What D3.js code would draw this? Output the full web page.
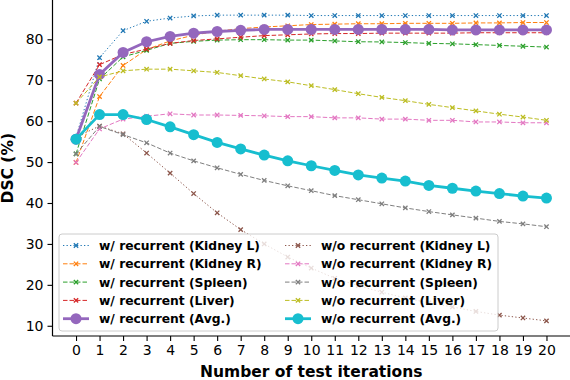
<!DOCTYPE html>
<html>
<head>
<meta charset="utf-8">
<script src="https://cdn.jsdelivr.net/npm/d3@7"></script>
<style>
  html, body { margin: 0; padding: 0; background: #fff; }
  svg { display: block; font-family: "DejaVu Sans", sans-serif; }
</style>
</head>
<body>
<div id="chart"></div>
<script>
// test iterations 0..20
const iterations = d3.range(0, 21);

// with recurrence
const wKidneyL = [56.1, 75.5, 82.1, 84.4, 85.2, 85.7, 85.9, 85.9, 85.9, 85.9, 85.8, 85.8, 85.8, 85.8, 85.8, 85.8, 85.8, 85.8, 85.8, 85.8, 85.8];
const wKidneyR = [49.9, 66.0, 73.6, 77.5, 79.6, 81.0, 82.0, 82.6, 83.0, 83.3, 83.6, 83.7, 83.8, 83.8, 83.9, 83.9, 83.9, 84.0, 84.0, 84.1, 84.1];
const wSpleen  = [52.0, 70.3, 75.7, 77.3, 79.0, 79.5, 79.8, 79.9, 79.9, 79.8, 79.8, 79.6, 79.4, 79.35, 79.2, 79.0, 78.9, 78.7, 78.5, 78.3, 78.1];
const wLiver   = [64.4, 73.8, 76.3, 77.6, 79.0, 79.7, 80.1, 80.5, 80.9, 81.1, 81.3, 81.4, 81.4, 81.5, 81.5, 81.5, 81.5, 81.6, 81.6, 81.6, 81.6];
const wAvg     = [55.6, 71.4, 76.8, 79.4, 80.7, 81.5, 81.9, 82.2, 82.4, 82.4, 82.4, 82.4, 82.4, 82.4, 82.4, 82.4, 82.3, 82.3, 82.3, 82.3, 82.3];

// without recurrence
const woKidneyL = [56.1, 58.8, 56.9, 52.2, 47.3, 42.3, 37.6, 33.5, 30.0, 26.8, 24.1, 21.6, 19.8, 18.2, 16.8, 15.6, 14.6, 13.5, 12.6, 11.9, 11.2];
const woKidneyR = [49.9, 58.1, 60.5, 61.2, 61.8, 61.5, 61.5, 61.4, 61.3, 61.1, 61.1, 60.8, 60.8, 60.5, 60.5, 60.2, 60.2, 59.8, 59.8, 59.6, 59.6];
const woSpleen  = [52.0, 58.7, 56.7, 54.7, 52.2, 50.3, 48.6, 47.0, 45.5, 44.2, 43.0, 41.8, 40.8, 39.8, 38.8, 37.9, 37.1, 36.3, 35.5, 34.9, 34.2];
const woLiver   = [64.4, 70.8, 72.3, 72.7, 72.7, 72.3, 71.9, 71.1, 70.3, 69.6, 68.65, 67.7, 66.7, 65.8, 65.0, 64.1, 63.3, 62.5, 61.7, 61.0, 60.2];
const woAvg     = [55.6, 61.6, 61.6, 60.4, 58.6, 56.7, 54.8, 53.2, 51.7, 50.3, 49.1, 47.95, 46.85, 46.1, 45.35, 44.3, 43.6, 42.9, 42.3, 41.7, 41.2];

const yTicks = [10, 20, 30, 40, 50, 60, 70, 80];

const series = [
  { name: "w/ recurrent (Kidney L)", values: wKidneyL, color: "#1f77b4", dash: "1.3,2.2", avg: false },
  { name: "w/ recurrent (Kidney R)", values: wKidneyR, color: "#ff7f0e", dash: "4.5,2", avg: false },
  { name: "w/ recurrent (Spleen)",   values: wSpleen,  color: "#2ca02c", dash: "4.5,2", avg: false },
  { name: "w/ recurrent (Liver)",    values: wLiver,   color: "#d62728", dash: "4.5,2", avg: false },
  { name: "w/ recurrent (Avg.)",     values: wAvg,     color: "#9467bd", dash: null,    avg: true },
  { name: "w/o recurrent (Kidney L)", values: woKidneyL, color: "#8c564b", dash: "1.3,2.2", avg: false },
  { name: "w/o recurrent (Kidney R)", values: woKidneyR, color: "#e377c2", dash: "4.5,2", avg: false },
  { name: "w/o recurrent (Spleen)",   values: woSpleen,  color: "#7f7f7f", dash: "4.5,2", avg: false },
  { name: "w/o recurrent (Liver)",    values: woLiver,   color: "#bcbd22", dash: "4.5,2", avg: false },
  { name: "w/o recurrent (Avg.)",     values: woAvg,     color: "#17becf", dash: null,    avg: true }
];

const width = 570, height = 380;
const svg = d3.select("#chart").append("svg")
  .attr("width", width)
  .attr("height", height);

const x = d3.scaleLinear().domain([-1, 21]).range([52.5, 570]);
const y = d3.scaleLinear().domain([7.5, 89.6]).range([336, 0]);

// axes
const xAxis = svg.append("g")
  .attr("transform", `translate(0,${y(7.5)})`)
  .call(d3.axisBottom(x).tickValues(iterations).tickSize(5).tickPadding(4).tickFormat(d3.format("d")));
const yAxis = svg.append("g")
  .attr("transform", `translate(${x(-1)},0)`)
  .call(d3.axisLeft(y).tickValues(yTicks).tickSize(5).tickPadding(4));

[xAxis, yAxis].forEach(a => {
  a.select(".domain").attr("stroke", "#000").attr("stroke-width", 1.2);
  a.selectAll(".tick line").attr("stroke", "#000").attr("stroke-width", 1.1);
  a.selectAll(".tick text").attr("fill", "#000")
    .style("font-family", "DejaVu Sans").style("font-size", "14px");
});
// drop the outer tick stubs d3 puts on the domain path
xAxis.select(".domain").attr("d", `M${x(-1)},0H${x(21)}`);
yAxis.select(".domain").attr("d", `M0,${y(7.5)}V${y(89.6)}`);

svg.append("text")
  .attr("x", (x(-1) + 570) / 2)
  .attr("y", 377)
  .attr("text-anchor", "middle")
  .style("font-size", "15.5px").style("font-weight", "bold")
  .text("Number of test iterations");

svg.append("text")
  .attr("transform", `translate(13,${y(48.5)}) rotate(-90)`)
  .attr("text-anchor", "middle")
  .style("font-size", "15.5px").style("font-weight", "bold")
  .text("DSC (%)");

const line = d3.line().x((d, i) => x(iterations[i])).y(d => y(d));
const cross = d3.symbol().type(d3.symbolX).size(14);

function drawMarker(g, s, cx, cy) {
  if (s.avg) {
    g.append("circle").attr("cx", cx).attr("cy", cy).attr("r", 5.5).attr("fill", s.color);
  } else {
    g.append("path").attr("d", cross).attr("transform", `translate(${cx},${cy})`)
      .attr("fill", "none").attr("stroke", s.color).attr("stroke-width", 1.3);
  }
}

const plot = svg.append("g");
series.forEach(s => {
  const g = plot.append("g");
  g.append("path")
    .attr("d", line(s.values))
    .attr("fill", "none")
    .attr("stroke", s.color)
    .attr("stroke-width", s.avg ? 2.8 : 1)
    .attr("stroke-dasharray", s.dash);
  s.values.forEach((v, i) => drawMarker(g, s, x(iterations[i]), y(v)));
});

// legend
const legend = svg.append("g");
legend.append("rect")
  .attr("x", 59).attr("y", 234).attr("width", 439).attr("height", 97)
  .attr("rx", 3)
  .attr("fill", "#fff").attr("fill-opacity", 0.8)
  .attr("stroke", "#cccccc").attr("stroke-width", 1);

const colX = [63, 285];
series.forEach((s, i) => {
  const col = Math.floor(i / 5), row = i % 5;
  const hx = colX[col], ry = 245.5 + row * 18.3;
  const g = legend.append("g");
  g.append("line")
    .attr("x1", hx).attr("x2", hx + 26).attr("y1", ry).attr("y2", ry)
    .attr("stroke", s.color)
    .attr("stroke-width", s.avg ? 2.8 : 1)
    .attr("stroke-dasharray", s.dash);
  drawMarker(g, s, hx + 13, ry);
  g.append("text")
    .attr("x", hx + 36).attr("y", ry).attr("dy", "0.36em")
    .style("font-size", "12.3px").style("font-weight", "bold")
    .text(s.name);
});
</script>
</body>
</html>
